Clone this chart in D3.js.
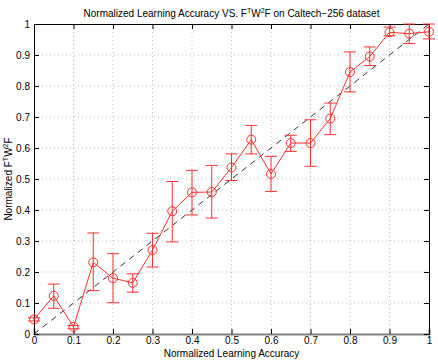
<!DOCTYPE html>
<html>
<head>
<meta charset="utf-8">
<script src="https://cdn.jsdelivr.net/npm/d3@7"></script>
<style>
  body { margin: 0; background: #fff; }
  text { font-family: "Liberation Sans", Arial, sans-serif; fill: #000; }
</style>
</head>
<body>
<svg id="drawing_region"></svg>
<script>
// values
const xs    = [0, 0.05, 0.1, 0.15, 0.2, 0.25, 0.3, 0.35, 0.4, 0.45, 0.5, 0.55, 0.6, 0.65, 0.7, 0.75, 0.8, 0.85, 0.9, 0.95, 1.0];
const means = [0.047, 0.123, 0.023, 0.231, 0.180, 0.165, 0.271, 0.396, 0.457, 0.458, 0.537, 0.627, 0.516, 0.616, 0.616, 0.695, 0.845, 0.895, 0.973, 0.969, 0.975];
const lows  = [0.042, 0.083, 0.017, 0.140, 0.101, 0.135, 0.216, 0.297, 0.384, 0.374, 0.495, 0.581, 0.460, 0.589, 0.541, 0.643, 0.781, 0.866, 0.962, 0.937, 0.952];
const highs = [0.052, 0.161, 0.027, 0.326, 0.259, 0.194, 0.325, 0.492, 0.528, 0.544, 0.581, 0.673, 0.573, 0.641, 0.691, 0.745, 0.910, 0.926, 0.990, 1.000, 1.000];
const xticks = [0, 0.1, 0.2, 0.3, 0.4, 0.5, 0.6, 0.7, 0.8, 0.9, 1];
const yticks = [0, 0.1, 0.2, 0.3, 0.4, 0.5, 0.6, 0.7, 0.8, 0.9, 1];
const refLine = [0, 1];

const data = xs.map((x, i) => ({x: x, y: means[i], lo: lows[i], hi: highs[i]}));

const config = {
    width: 438,
    height: 360,
    margin: {top: 24, right: 9, bottom: 26, left: 34}
};

const svg = d3.select('#drawing_region')
    .attr('width', config.width)
    .attr('height', config.height);

const inner_width = config.width - config.margin.left - config.margin.right;
const inner_height = config.height - config.margin.top - config.margin.bottom;

const chart = svg.append('g')
    .attr('transform', `translate(${config.margin.left}, ${config.margin.top})`);

const xscale = d3.scaleLinear().domain([0, 1]).range([0, inner_width]);
const yscale = d3.scaleLinear().domain([0, 1]).range([inner_height, 0]);

// grid
chart.append('g').selectAll('line')
    .data(xticks.slice(1, -1))
    .join('line')
    .attr('x1', d => xscale(d)).attr('x2', d => xscale(d))
    .attr('y1', 0).attr('y2', inner_height)
    .attr('stroke', '#bbb').attr('stroke-dasharray', '1,3');
chart.append('g').selectAll('line')
    .data(yticks.slice(1, -1))
    .join('line')
    .attr('y1', d => yscale(d)).attr('y2', d => yscale(d))
    .attr('x1', 0).attr('x2', inner_width)
    .attr('stroke', '#bbb').attr('stroke-dasharray', '1,3');

// axes (ticks inward, MATLAB box)
const xaxis = d3.axisBottom(xscale).tickValues(xticks).tickSize(-5).tickPadding(3).tickFormat(d3.format('~g'));
const yaxis = d3.axisLeft(yscale).tickValues(yticks).tickSize(-5).tickPadding(4).tickFormat(d3.format('~g'));
const xaxis_top = d3.axisTop(xscale).tickValues(xticks).tickSize(-5).tickFormat('');
const yaxis_right = d3.axisRight(yscale).tickValues(yticks).tickSize(-5).tickFormat('');

const xg = chart.append('g').attr('transform', `translate(0, ${inner_height})`).call(xaxis);
const yg = chart.append('g').call(yaxis);
chart.append('g').call(xaxis_top);
chart.append('g').attr('transform', `translate(${inner_width}, 0)`).call(yaxis_right);

chart.selectAll('.domain').attr('stroke', '#000');
chart.selectAll('.tick line').attr('stroke', '#000');
chart.selectAll('.tick text').attr('font-size', 10).attr('fill', '#000')
    .style('font-family', '"Liberation Sans", Arial, sans-serif');
xg.select('.domain').attr('stroke', '#808080').attr('stroke-width', 2);

// diagonal reference
chart.append('line')
    .attr('x1', xscale(refLine[0])).attr('y1', yscale(refLine[0]))
    .attr('x2', xscale(refLine[1])).attr('y2', yscale(refLine[1]))
    .attr('stroke', '#000').attr('stroke-dasharray', '6,5').attr('stroke-width', 0.8);

const red = '#ff3030';

// error bars
const eb = chart.append('g').attr('stroke', red).attr('stroke-width', 1);
eb.selectAll('.v').data(data).join('line')
    .attr('x1', d => xscale(d.x)).attr('x2', d => xscale(d.x))
    .attr('y1', d => yscale(d.lo)).attr('y2', d => yscale(d.hi));
eb.selectAll('.t').data(data).join('line')
    .attr('x1', d => xscale(d.x) - 6).attr('x2', d => xscale(d.x) + 6)
    .attr('y1', d => yscale(d.hi)).attr('y2', d => yscale(d.hi));
eb.selectAll('.b').data(data).join('line')
    .attr('x1', d => xscale(d.x) - 6).attr('x2', d => xscale(d.x) + 6)
    .attr('y1', d => yscale(d.lo)).attr('y2', d => yscale(d.lo));

// mean line
const line = d3.line().x(d => xscale(d.x)).y(d => yscale(d.y));
chart.append('path')
    .attr('d', line(data))
    .attr('stroke', red).attr('fill', 'none').attr('stroke-width', 1);

chart.append('g').selectAll('circle').data(data).join('circle')
    .attr('cx', d => xscale(d.x)).attr('cy', d => yscale(d.y))
    .attr('r', 4.5).attr('fill', 'none').attr('stroke', red).attr('stroke-width', 1);

// title and labels
const title = svg.append('text')
    .attr('x', config.margin.left + inner_width / 2).attr('y', 17)
    .attr('text-anchor', 'middle').attr('font-size', 10);
title.append('tspan').text('Normalized Learning Accuracy VS. F');
title.append('tspan').attr('dy', -4).attr('font-size', 7).text('T');
title.append('tspan').attr('dy', 4).text('W');
title.append('tspan').attr('dy', -4).attr('font-size', 7).text('2');
title.append('tspan').attr('dy', 4).text('F on Caltech\u2212256 dataset');

svg.append('text')
    .attr('x', config.margin.left + inner_width / 2).attr('y', 357)
    .attr('text-anchor', 'middle').attr('font-size', 10)
    .text('Normalized Learning Accuracy');

const ylab = svg.append('text')
    .attr('transform', `translate(12, ${config.margin.top + inner_height / 2}) rotate(-90)`)
    .attr('text-anchor', 'middle').attr('font-size', 10);
ylab.append('tspan').text('Normalized F');
ylab.append('tspan').attr('dy', -4).attr('font-size', 7).text('T');
ylab.append('tspan').attr('dy', 4).text('W');
ylab.append('tspan').attr('dy', -4).attr('font-size', 7).text('2');
ylab.append('tspan').attr('dy', 4).text('F');
</script>
</body>
</html>
